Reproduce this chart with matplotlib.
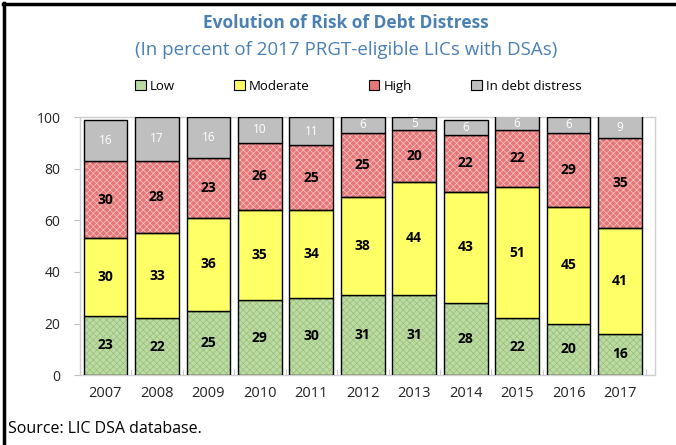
import matplotlib
matplotlib.use("Agg")
import matplotlib.pyplot as plt
from matplotlib.lines import Line2D
from matplotlib.patches import Patch
import numpy as np

plt.rcParams['font.family'] = ['Open Sans', 'DejaVu Sans']
plt.rcParams['hatch.linewidth'] = 0.5

years = ['2007', '2008', '2009', '2010', '2011', '2012', '2013', '2014', '2015', '2016', '2017']
low = [23, 22, 25, 29, 30, 31, 31, 28, 22, 20, 16]
moderate = [30, 33, 36, 35, 34, 38, 44, 43, 51, 45, 41]
high = [30, 28, 23, 26, 25, 25, 20, 22, 22, 29, 35]
distress = [16, 17, 16, 10, 11, 6, 5, 6, 6, 6, 9]

series = [
    ('Low', low, '#bcdba2', '#98c07c', 'xxxxx'),
    ('Moderate', moderate, '#ffff66', '#f0f060', ''),
    ('High', high, '#e67779', '#f7c4c4', 'xxxxx'),
    ('In debt distress', distress, '#bfbfbf', '#bfbfbf', ''),
]

fig = plt.figure(figsize=(6.76, 4.45), dpi=100)
ax = fig.add_axes([0.118, 0.157, 0.851, 0.58])

x = np.arange(len(years))
width = 0.85
bottom = np.zeros(len(years))
for name, vals, fc, hc, hatch in series:
    vals = np.array(vals, dtype=float)
    if hatch:
        ax.bar(x, vals, width, bottom=bottom, color=fc, edgecolor=hc, hatch=hatch, linewidth=0, zorder=2)
        ax.bar(x, vals, width, bottom=bottom, color='none', edgecolor='black', linewidth=1.0, zorder=3)
    else:
        ax.bar(x, vals, width, bottom=bottom, color=fc, edgecolor='black', linewidth=1.0, zorder=3)
    for i, v in enumerate(vals):
        top = min(bottom[i] + v, 100)
        yc = (bottom[i] + top) / 2
        if name == 'In debt distress':
            ax.text(x[i], yc, f"{int(v)}", ha='center', va='center', fontsize=8.5, color='white', zorder=5)
        else:
            ax.text(x[i], yc, f"{int(v)}", ha='center', va='center', fontsize=10, fontweight='bold', color='black', zorder=5)
    bottom += vals

ax.set_xlim(-0.47, 10.68)
ax.set_ylim(0, 100)
ax.set_yticks([0, 20, 40, 60, 80, 100])
ax.set_xticks(x)
ax.set_xticklabels(years)
ax.set_xticks(np.arange(-0.5, 11, 1), minor=True)
ax.tick_params(axis='x', which='major', length=0, labelsize=10.5, pad=8, colors='#222222')
ax.tick_params(axis='x', which='minor', length=4, direction='in', color='#bfbfbf')
ax.tick_params(axis='y', length=4, direction='out', color='#bfbfbf', labelsize=10, pad=10, labelcolor='#222222')
for s in ax.spines.values():
    s.set_color('#d0d0d0')
    s.set_linewidth(1.0)

title_color = '#4a80b4'
fig.text(0.512, 0.948, 'Evolution of Risk of Debt Distress', ha='center', va='center',
         fontsize=12.5, fontweight='bold', color=title_color)
fig.text(0.512, 0.887, '(In percent of 2017 PRGT-eligible LICs with DSAs)', ha='center', va='center',
         fontsize=13.5, color=title_color)

handles = []
for name, vals, fc, hc, hatch in series:
    handles.append(Patch(facecolor=fc, edgecolor='black', linewidth=0.8))
leg = fig.legend(handles, [s[0] for s in series], loc='center', bbox_to_anchor=(0.53, 0.806), ncol=4,
                 frameon=False, fontsize=9.5, handlelength=0.8, handleheight=0.8, handletextpad=0.3,
                 columnspacing=4.5)

fig.text(0.012, 0.035, 'Source: LIC DSA database.', ha='left', va='center', fontsize=11.5, color='black')

fig.add_artist(Line2D([0.006, 0.006], [0.0, 0.993], transform=fig.transFigure, color='black', linewidth=2.5))
fig.add_artist(Line2D([0.004, 1.0], [0.992, 0.992], transform=fig.transFigure, color='black', linewidth=2.5))

fig.savefig('out.png', dpi=100)
